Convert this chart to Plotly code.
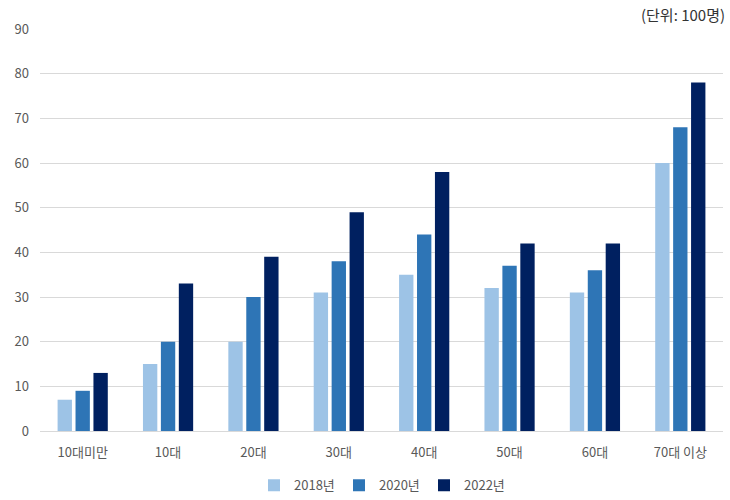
import plotly.graph_objects as go

categories = ["10대미만", "10대", "20대", "30대", "40대", "50대", "60대", "70대 이상"]
series_names = ["2018년", "2020년", "2022년"]
v2018 = [7, 15, 20, 31, 35, 32, 31, 60]
v2020 = [9, 20, 30, 38, 44, 37, 36, 68]
v2022 = [13, 33, 39, 49, 58, 42, 42, 78]
y_ticks = [0, 10, 20, 30, 40, 50, 60, 70, 80, 90]
colors = ["#9DC3E6", "#2E75B6", "#002060"]

FONT = "Noto Sans CJK KR, Noto Sans, sans-serif"

fig = go.Figure()
for name, vals, c in zip(series_names, [v2018, v2020, v2022], colors):
    fig.add_trace(go.Bar(x=categories, y=vals, name=name, marker_color=c, marker_line_width=0))

fig.update_layout(
    width=730, height=500,
    margin=dict(l=40, r=7, t=29, b=69, autoexpand=False),
    paper_bgcolor="white", plot_bgcolor="white",
    barmode="group", bargap=0.37, bargroupgap=0.2,
    font=dict(family=FONT, size=13, color="#595959"),
    showlegend=True,
    legend=dict(orientation="h", x=0.5, xanchor="center", y=-0.135, yanchor="middle",
                font=dict(size=13, color="#595959"), itemwidth=30, traceorder="normal",
                entrywidth=40, entrywidthmode="pixels", itemclick=False),
    xaxis=dict(showgrid=False, showline=False, ticks="", tickfont=dict(size=13, color="#595959"),
               ticklabelstandoff=12, automargin=False),
    yaxis=dict(range=[0, 90], tickvals=y_ticks, showgrid=True, gridcolor="#D9D9D9", gridwidth=1,
               zeroline=True, zerolinecolor="#D9D9D9", zerolinewidth=1, ticks="",
               tickfont=dict(size=13, color="#595959"), ticklabelstandoff=10, automargin=False),
    annotations=[dict(text="(단위: 100명)", x=1, xref="paper", xanchor="right", xshift=4,
                      y=1.0 + (29 - 14) / 402.0, yref="paper", yanchor="middle", showarrow=False,
                      font=dict(size=15, color="#333333"))],
)
fig.write_html("out.html")
